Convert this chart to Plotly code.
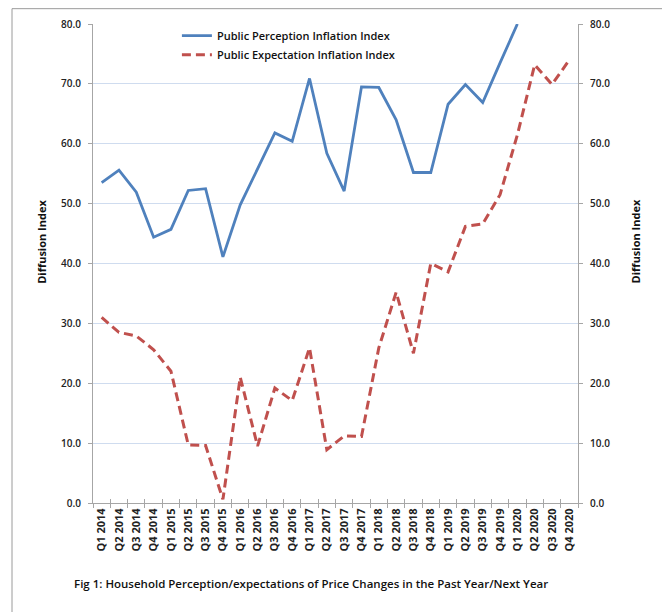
import plotly.graph_objects as go

quarters = [f"Q{q} {y}" for y in range(2014, 2021) for q in range(1, 5)]

perception = [53.5, 55.6, 51.9, 44.4, 45.7, 52.2, 52.5, 41.1,
              49.8, 55.9, 61.8, 60.4, 70.9, 58.4, 52.1, 69.5,
              69.4, 64.0, 55.2, 55.2, 66.6, 69.9, 66.9, 73.5,
              80.0, None, None, None]

expectation = [31.0, 28.5, 27.9, 25.6, 22.0, 9.7, 9.6, 0.6,
               21.0, 9.5, 19.2, 17.1, 25.9, 8.9, 11.2, 11.1,
               25.9, 35.2, 25.0, 40.0, 38.6, 46.2, 46.6, 51.5,
               61.5, 73.2, 69.9, 74.0]

y_ticks = [0, 10, 20, 30, 40, 50, 60, 70, 80]
grid_vals = [10, 20, 30, 40, 50, 60, 70]

FONT = "Open Sans, sans-serif"
AX = "#a6a6a6"
GRID = "#cfdcef"

fig = go.Figure()
fig.add_trace(go.Scatter(
    x=quarters, y=perception, mode="lines",
    name="Public Perception Inflation Index",
    line=dict(color="#4f81bd", width=2.8),
    xaxis="x", yaxis="y", connectgaps=False))
fig.add_trace(go.Scatter(
    x=quarters, y=expectation, mode="lines",
    name="Public Expectation Inflation Index",
    line=dict(color="#c0504d", width=3, dash="9px,5px"),
    xaxis="x2", yaxis="y2"))
fig.add_trace(go.Scatter(x=quarters, y=[None]*len(quarters), xaxis="x", yaxis="y3",
                         showlegend=False, hoverinfo="skip"))

xtickfont = dict(family=FONT, size=11, color="#222222", weight="bold")
ytickfont = dict(family=FONT, size=10, color="#222222", weight=600)

fig.update_layout(
    template="none",
    width=670, height=612,
    margin=dict(l=85, r=100, t=16, b=117, autoexpand=False),
    paper_bgcolor="white", plot_bgcolor="white",
    showlegend=True,
    legend=dict(x=0.173, y=1.006, xanchor="left", yanchor="top",
                bgcolor="rgba(0,0,0,0)", borderwidth=0,
                font=dict(family=FONT, size=11, color="#111111", weight=600),
                itemwidth=30),
    xaxis=dict(type="category", categoryorder="array", categoryarray=quarters,
               range=[-0.5, 27.5], tickson="boundaries", ticks="outside",
               ticklen=4, tickcolor=AX, showline=True, linecolor=AX, linewidth=1,
               tickangle=-90, tickfont=xtickfont, showgrid=False, zeroline=False,
               automargin=False),
    xaxis2=dict(type="category", categoryorder="array", categoryarray=quarters,
                range=[-0.5, 27.5], tickson="boundaries", ticks="inside",
                ticklen=4, tickcolor=AX, showline=False, showticklabels=False,
                showgrid=False, zeroline=False, overlaying="x", anchor="y2",
                automargin=False),
    yaxis=dict(range=[0, 80], tickvals=y_ticks, tickformat=".1f",
               ticks="outside", ticklen=4, tickcolor=AX, showline=True,
               linecolor=AX, linewidth=1, showgrid=False, zeroline=False,
               tickfont=ytickfont, ticklabelstandoff=5, automargin=False),
    yaxis2=dict(range=[0, 80], tickvals=y_ticks, tickformat=".1f",
                ticks="outside", ticklen=4, tickcolor=AX, showline=True,
                linecolor=AX, linewidth=1, showgrid=False, zeroline=False,
                tickfont=ytickfont, side="right", overlaying="y", anchor="x2",
                ticklabelstandoff=5, automargin=False),
    yaxis3=dict(range=[0, 80], tickvals=grid_vals, showgrid=True, gridcolor=GRID,
                gridwidth=1, showticklabels=False, ticks="", showline=False,
                zeroline=False, overlaying="y", anchor="x", automargin=False),
)

for xp in (-0.126, 1.139):
    fig.add_annotation(text="Diffusion Index", xref="paper", yref="paper",
                       x=xp, y=0.546, textangle=-90, showarrow=False,
                       font=dict(family=FONT, size=11, color="#111111", weight="bold"))

fig.add_annotation(
    text="Fig 1: Household Perception/expectations of Price Changes in the Past Year/Next Year",
    xref="paper", yref="paper", x=0.449, y=-0.188, showarrow=False,
    font=dict(family=FONT, size=11.5, color="#111111", weight=600))

fig.add_shape(type="line", xref="paper", yref="paper", x0=-0.167, x1=1.2,
              y0=1.032, y1=1.032, line=dict(color="#9a9a9a", width=1))
fig.add_shape(type="line", xref="paper", yref="paper", x0=-0.167, x1=-0.167,
              y0=1.032, y1=-0.25, line=dict(color="#9a9a9a", width=1))

fig.write_html("out.html")
